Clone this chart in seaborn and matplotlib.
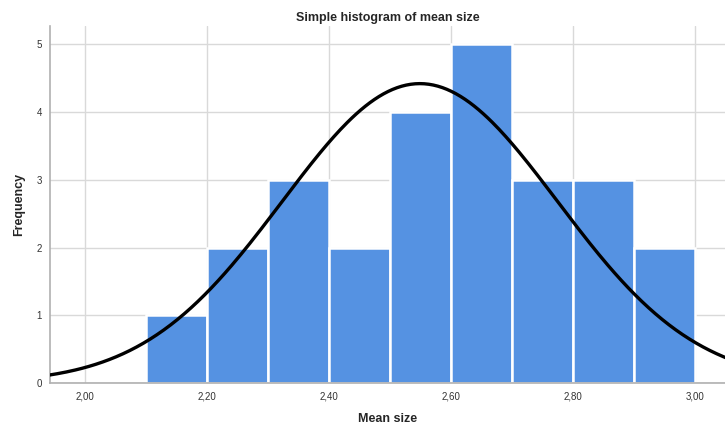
import numpy as np
import pandas as pd
import matplotlib
matplotlib.use("Agg")
import matplotlib.pyplot as plt
import seaborn as sns

# Histogram data
bin_edges = [2.10, 2.20, 2.30, 2.40, 2.50, 2.60, 2.70, 2.80, 2.90, 3.00]
counts = [1, 2, 3, 2, 4, 5, 3, 3, 2]
# fitted normal curve parameters
curve_mean = 2.549
curve_sd = 0.2256
x_ticks = [2.00, 2.20, 2.40, 2.60, 2.80, 3.00]
y_ticks = [0, 1, 2, 3, 4, 5]

mids = [(a + b) / 2 for a, b in zip(bin_edges[:-1], bin_edges[1:])]
df = pd.DataFrame({"mean_size": mids, "count": counts})

sns.set_style("white")
plt.rcParams['font.family'] = ['Arial', 'Liberation Sans', 'DejaVu Sans']

fig = plt.figure(figsize=(7.25, 4.28), dpi=100)
ax = fig.add_axes([0.069, 0.105, 0.931, 0.834])

sns.histplot(data=df, x="mean_size", weights="count", bins=bin_edges,
             color="#5592e2", alpha=1, edgecolor="white", linewidth=1.8, ax=ax, zorder=2)

# normal curve scaled to counts
xs = np.linspace(1.94, 3.05, 300)
n = sum(counts)
width = bin_edges[1] - bin_edges[0]
ys = n * width / (curve_sd * np.sqrt(2 * np.pi)) * np.exp(-0.5 * ((xs - curve_mean) / curve_sd) ** 2)
ax.plot(xs, ys, color="black", linewidth=2.4, zorder=3)

ax.set_xlim(1.943, 3.049)
ax.set_ylim(0, 5.27)
ax.set_xticks(x_ticks)
ax.set_xticklabels([f"{t:.2f}".replace(".", ",") for t in x_ticks])
ax.set_yticks(y_ticks)
ax.grid(True, color="#d9d9d9", linewidth=1, zorder=0)
ax.set_axisbelow(True)
ax.tick_params(axis="both", length=0, labelsize=7, colors="#333333", pad=6)

for s in ["top", "right"]:
    ax.spines[s].set_visible(False)
for s in ["left", "bottom"]:
    ax.spines[s].set_color("#b0b0b0")
    ax.spines[s].set_linewidth(1.2)

ax.set_title("Simple histogram of mean size", fontsize=9, fontweight="bold", pad=4)
ax.set_xlabel("Mean size", fontsize=9, fontweight="bold", labelpad=8)
ax.set_ylabel("Frequency", fontsize=9, fontweight="bold", labelpad=8)

fig.savefig("out.png", dpi=100)
